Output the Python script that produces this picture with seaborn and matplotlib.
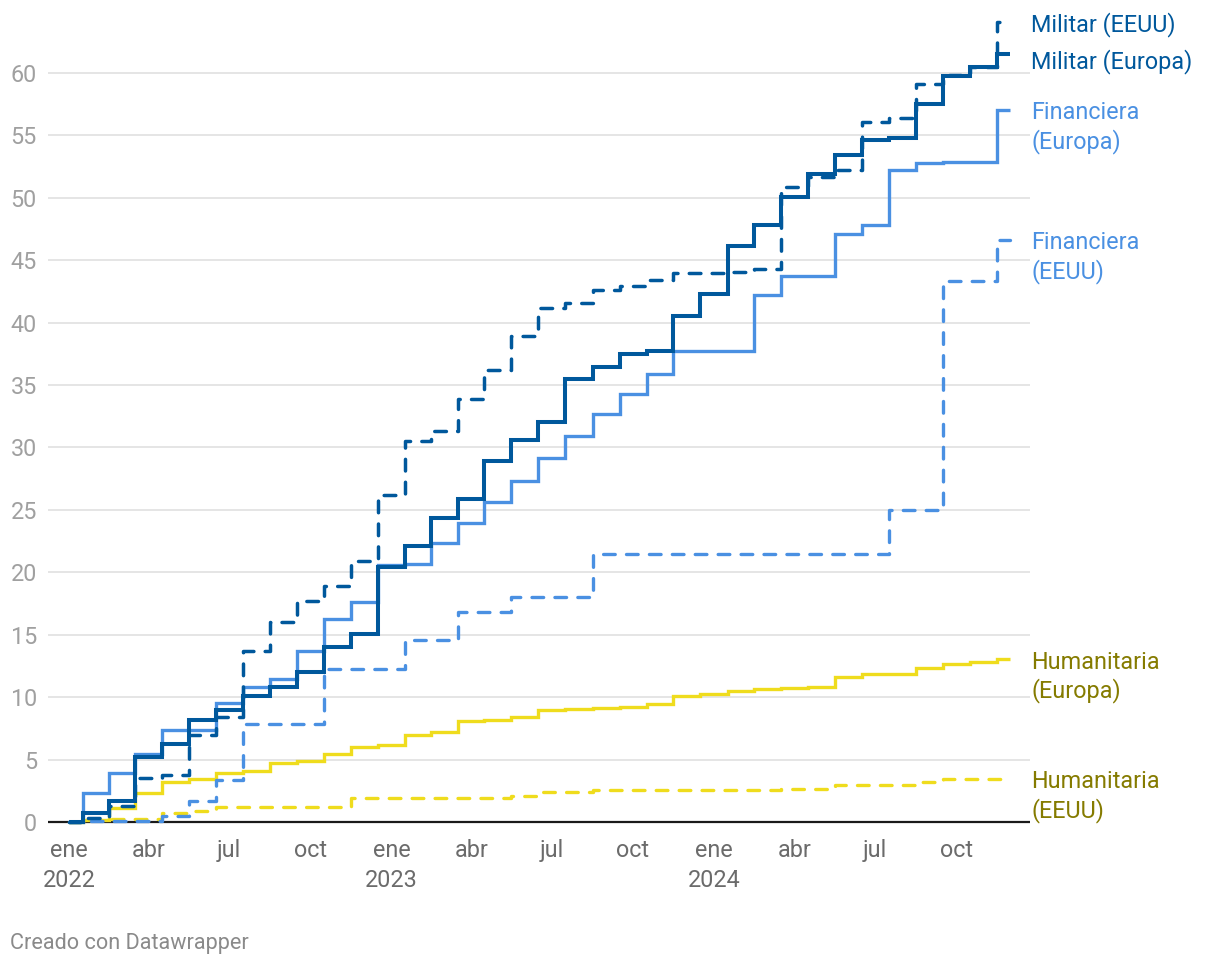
import numpy as np
import pandas as pd
import matplotlib.pyplot as plt
import matplotlib.dates as mdates
import seaborn as sns

# monthly cumulative values, Jan 2022 .. Dec 2024 (36 months)
fechas = pd.date_range("2022-01-01", "2024-12-01", freq="MS")

militar_europa = [0, 0.72, 1.72, 5.18, 6.25, 8.17, 8.97, 10.1, 10.85, 12.05, 14.0, 15.06,
                  20.46, 22.12, 24.33, 25.85, 28.95, 30.6, 32.0, 35.47, 36.45, 37.5, 37.7, 40.54,
                  42.3, 46.1, 47.84, 50.1, 51.9, 53.45, 54.65, 54.8, 57.5, 59.78, 60.47, 61.54]
militar_eeuu = [0, 0.3, 1.25, 3.5, 3.77, 6.97, 8.44, 13.73, 16.05, 17.7, 18.9, 20.9,
                26.2, 30.55, 31.28, 33.9, 36.2, 38.9, 41.16, 41.6, 42.6, 42.95, 43.43, 43.96,
                44.0, 44.05, 44.3, 50.9, 51.7, 52.24, 56.1, 56.4, 59.13, 59.86, 60.5, 64.1]
financiera_europa = [0, 2.3, 3.95, 5.45, 7.37, 7.4, 9.5, 10.85, 11.43, 13.73, 16.3, 17.65,
                     20.6, 20.7, 22.38, 23.98, 25.67, 27.35, 29.14, 30.93, 32.7, 34.3, 35.85, 37.7,
                     37.7, 37.7, 42.2, 43.7, 43.75, 47.1, 47.84, 52.2, 52.8, 52.85, 52.85, 57.05]
financiera_eeuu = [0, 0.1, 0.1, 0.1, 0.45, 1.72, 3.37, 7.85, 7.85, 7.85, 12.23, 12.23,
                   12.23, 14.6, 14.6, 16.85, 16.85, 18.0, 18.0, 18.0, 21.47, 21.47, 21.47, 21.47,
                   21.47, 21.47, 21.47, 21.47, 21.47, 21.47, 21.47, 25.0, 25.0, 43.35, 43.35, 46.63]
humanitaria_europa = [0, 0.2, 1.1, 2.35, 3.2, 3.42, 3.95, 4.05, 4.72, 4.92, 5.45, 5.98,
                      6.17, 6.97, 7.24, 8.1, 8.15, 8.44, 9.0, 9.03, 9.1, 9.24, 9.43, 10.12,
                      10.26, 10.52, 10.63, 10.71, 10.84, 11.59, 11.83, 11.86, 12.37, 12.66, 12.85, 13.06]
humanitaria_eeuu = [0, 0.2, 0.24, 0.24, 0.7, 0.88, 1.23, 1.23, 1.23, 1.23, 1.23, 1.9,
                    1.9, 1.9, 1.9, 1.9, 1.9, 2.05, 2.43, 2.43, 2.56, 2.56, 2.56, 2.56,
                    2.56, 2.56, 2.56, 2.64, 2.64, 2.96, 2.96, 2.96, 3.18, 3.45, 3.45, 3.45]

tick_fechas = pd.to_datetime(["2022-01-01", "2022-04-01", "2022-07-01", "2022-10-01",
                              "2023-01-01", "2023-04-01", "2023-07-01", "2023-10-01",
                              "2024-01-01", "2024-04-01", "2024-07-01", "2024-10-01"])
tick_labels = ["ene\n2022", "abr", "jul", "oct", "ene\n2023", "abr", "jul", "oct",
               "ene\n2024", "abr", "jul", "oct"]

azul_osc = "#00589c"
azul_cla = "#4a90e2"
amarillo = "#efdc1d"
oliva = "#857b00"

# (values, line colour, dashed, width, label lines, label colour)
series = [
    (humanitaria_eeuu, amarillo, True, 2.4, ["Humanitaria", "(EEUU)"], oliva),
    (humanitaria_europa, amarillo, False, 2.4, ["Humanitaria", "(Europa)"], oliva),
    (financiera_eeuu, azul_cla, True, 2.4, ["Financiera", "(EEUU)"], azul_cla),
    (financiera_europa, azul_cla, False, 2.4, ["Financiera", "(Europa)"], azul_cla),
    (militar_eeuu, azul_osc, True, 2.5, ["Militar (EEUU)"], azul_osc),
    (militar_europa, azul_osc, False, 2.9, ["Militar (Europa)"], azul_osc),
]

sns.set_theme(style="white")
plt.rcParams["font.family"] = ["Roboto", "DejaVu Sans"]
plt.rcParams["lines.scale_dashes"] = False

fig = plt.figure(figsize=(12.2, 9.68), dpi=100)
ax = fig.add_axes([48 / 1220, 1 - 829.5 / 968, 982 / 1220, 821.5 / 968])

for vals, color, dashed, lw, lab, lcol in series:
    ls = (0, (8.4, 8.1)) if dashed else "-"
    sns.lineplot(x=fechas, y=vals, ax=ax, color=color, linewidth=lw, linestyle=ls,
                 drawstyle="steps-mid", dash_capstyle="round", solid_capstyle="butt",
                 solid_joinstyle="miter", legend=False)
    y_lab = vals[-1]
    if lab[0] == "Militar (Europa)":
        y_lab = vals[-1] - 0.4
    for i, line in enumerate(lab):
        ax.annotate(line, xy=(1.0, y_lab), xycoords=("axes fraction", "data"),
                    xytext=(1, -2.2 - 20.6 * i), textcoords="offset points",
                    ha="left", va="center", fontsize=16.8, color=lcol,
                    annotation_clip=False)

x0 = mdates.date2num(pd.Timestamp("2022-01-01"))
ax.set_xlim(x0 - 24.1, x0 + 1087.6)
ax.set_ylim(-0.6, 65.2)

ax.set_yticks(range(0, 61, 5))
ax.set_xticks(tick_fechas)
ax.set_xticklabels(tick_labels, linespacing=1.35)
ax.tick_params(axis="y", length=0, pad=8, labelsize=16.8, labelcolor="#a0a0a0")
ax.tick_params(axis="x", length=0, pad=7, labelsize=16.8, labelcolor="#6b6b6b")
for t in ax.get_xticklabels():
    t.set_verticalalignment("top")

ax.yaxis.grid(True, color="#e3e3e3", linewidth=1.3)
ax.xaxis.grid(False)
ax.set_axisbelow(True)
ax.axhline(0, color="#1a1a1a", linewidth=1.6, zorder=1.5)
sns.despine(ax=ax, left=True, bottom=True)
ax.set_xlabel("")
ax.set_ylabel("")

fig.text(10 / 1220, 1 - 944 / 968, "Creado con Datawrapper", fontsize=15.6, color="#8a8a8a",
         ha="left", va="center")

plt.savefig("out.png", dpi=100)
